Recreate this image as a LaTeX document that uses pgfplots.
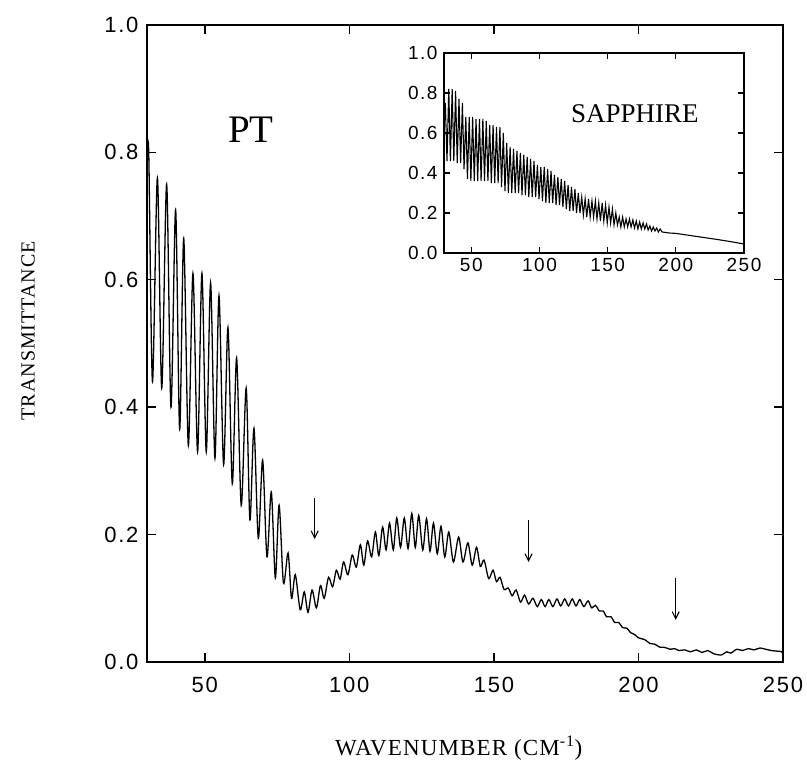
\documentclass[border=0pt]{standalone}
\usepackage{pgfplots}
\pgfplotsset{compat=1.18}
\usepackage{fontspec}
\setmainfont{Liberation Serif}
\newfontfamily\ticksans[LetterSpace=8]{Liberation Sans}
\newfontfamily\labserif[LetterSpace=5]{Liberation Serif}
\usetikzlibrary{arrows.meta}

\pgfplotstableread{
x y
30.0 0.78
30.6 0.80
31.9 0.44
33.6 0.76
35.1 0.43
36.8 0.75
38.3 0.40
39.9 0.71
41.3 0.365
42.7 0.665
44.3 0.34
45.9 0.61
47.5 0.33
49.0 0.61
50.5 0.33
52.0 0.595
53.5 0.32
54.9 0.575
56.5 0.31
58.0 0.525
59.5 0.28
61.0 0.477
62.6 0.246
64.3 0.43
65.6 0.223
67.0 0.367
68.5 0.194
70.0 0.317
71.5 0.165
73.0 0.267
74.4 0.132
75.7 0.246
77.2 0.124
78.8 0.171
80.0 0.10
81.3 0.137
83.0 0.082
84.4 0.11
85.7 0.078
87.1 0.113
88.6 0.085
90.0 0.12
91.3 0.10
92.8 0.133
94.2 0.118
95.5 0.144
96.8 0.13
98.0 0.157
99.5 0.137
101.0 0.168
102.4 0.149
103.8 0.184
105.0 0.152
106.3 0.19
107.7 0.165
109.0 0.204
110.2 0.167
111.5 0.212
112.7 0.176
113.9 0.218
115.2 0.176
116.4 0.226
117.7 0.18
119.0 0.226
120.3 0.178
121.6 0.233
122.8 0.18
124.0 0.23
125.4 0.176
126.7 0.225
127.9 0.174
129.1 0.218
130.4 0.17
131.7 0.213
133.0 0.165
134.4 0.204
136.0 0.157
137.8 0.196
139.3 0.157
141.0 0.187
142.5 0.152
144.0 0.18
145.3 0.15
146.6 0.16
148.2 0.131
149.7 0.144
150.9 0.126
152.1 0.133
153.5 0.114
155.0 0.116
156.3 0.104
157.7 0.113
159.2 0.094
160.6 0.105
162.0 0.091
163.5 0.100
165.0 0.087
166.4 0.098
167.7 0.087
169.0 0.098
170.4 0.087
171.8 0.099
173.1 0.088
174.5 0.099
175.8 0.088
177.1 0.099
178.4 0.088
179.7 0.098
181.1 0.087
182.6 0.096
183.8 0.085
185.1 0.089
186.5 0.080
187.8 0.080
189.0 0.071
190.5 0.071
191.8 0.062
193.2 0.062
194.5 0.054
196.0 0.053
197.3 0.046
198.7 0.043
200.0 0.038
202.2 0.035
204.0 0.029
205.6 0.028
207.5 0.023
209.0 0.023
211.0 0.020
212.5 0.021
214.0 0.018
216.0 0.019
218.0 0.016
220.0 0.019
222.0 0.015
224.0 0.018
226.0 0.013
228.7 0.011
230.5 0.016
232.0 0.014
234.0 0.020
236.0 0.018
238.0 0.021
240.0 0.019
242.0 0.022
244.0 0.020
246.0 0.018
248.0 0.017
249.6 0.016
250.0 0.010
}\pttable

\pgfplotstableread{
x y
30.0 0.62
31.0 0.75
32.2 0.46
33.5 0.82
34.7 0.46
36.0 0.82
37.2 0.46
38.5 0.81
39.7 0.45
41.0 0.77
42.2 0.45
43.5 0.75
44.7 0.42
46.0 0.68
47.2 0.37
48.5 0.68
49.7 0.36
51.0 0.68
52.2 0.36
53.5 0.67
54.7 0.36
56.0 0.67
57.2 0.36
58.5 0.67
59.7 0.36
61.0 0.66
62.2 0.36
63.5 0.64
64.7 0.35
66.0 0.64
67.2 0.35
68.5 0.63
69.7 0.35
71.0 0.63
72.2 0.33
73.5 0.60
74.7 0.31
76.0 0.55
77.2 0.30
78.5 0.53
79.7 0.30
81.0 0.52
82.2 0.30
83.5 0.51
84.7 0.30
86.0 0.50
87.2 0.29
88.5 0.49
89.7 0.29
91.0 0.48
92.2 0.28
93.5 0.47
94.7 0.28
96.0 0.46
97.2 0.28
98.5 0.44
99.7 0.27
101.0 0.43
102.2 0.26
103.5 0.43
104.7 0.25
106.0 0.42
107.2 0.25
108.5 0.41
109.7 0.25
111.0 0.39
112.2 0.24
113.5 0.38
114.7 0.24
116.0 0.37
117.2 0.23
118.5 0.36
119.7 0.22
121.0 0.34
122.2 0.21
123.5 0.33
124.7 0.21
126.0 0.32
127.2 0.20
128.5 0.30
129.7 0.20
131.0 0.28
132.2 0.19
133.5 0.27
134.7 0.18
136.0 0.27
137.2 0.18
138.5 0.26
139.7 0.18
141.0 0.26
142.2 0.17
143.5 0.25
144.7 0.16
146.0 0.25
147.2 0.16
148.5 0.24
149.7 0.15
151.0 0.23
152.2 0.15
153.5 0.22
154.7 0.14
156.0 0.20
157.2 0.14
158.5 0.18
159.7 0.13
161.0 0.18
162.2 0.13
163.5 0.17
164.7 0.13
166.0 0.17
167.2 0.13
168.5 0.165
169.7 0.125
171.0 0.16
172.2 0.12
173.5 0.155
174.7 0.12
176.0 0.15
177.2 0.12
178.5 0.145
179.7 0.115
181.0 0.135
182.2 0.11
183.5 0.13
184.7 0.11
186.0 0.125
187.2 0.105
188.5 0.12
190.0 0.105
195.0 0.10
200.0 0.098
210.0 0.088
220.0 0.078
230.0 0.068
240.0 0.057
250.0 0.045
}\saptable

\begin{document}
\begin{tikzpicture}
\useasboundingbox (-147pt,-103pt) rectangle (660pt,662pt);
\begin{axis}[
  name=main,
  scale only axis,
  width=636pt, height=637pt,
  xmin=30, xmax=250, ymin=0, ymax=1,
  xtick={50,100,150,200,250},
  ytick={0,0.2,0.4,0.6,0.8,1.0},
  tick align=inside,
  major tick length=9pt,
  major tick style={line width=1.4pt, black},
  /pgf/number format/assume math mode=true,
  tick label style={font=\fontsize{22}{26}\ticksans},
  yticklabel style={/pgf/number format/fixed, /pgf/number format/fixed zerofill, /pgf/number format/precision=1, xshift=-5pt},
  xticklabel style={yshift=-12pt},
  xlabel={\labserif WAVENUMBER (CM\textsuperscript{-1})},
  ylabel={\labserif TRANSMITTANCE},
  every axis x label/.style={at={(axis description cs:0.49,-0.135)}, anchor=center, font=\fontsize{23}{27}\selectfont},
  every axis y label/.style={at={(axis description cs:-0.187,0.52)}, anchor=center, rotate=90, font=\fontsize{20}{24}\selectfont},
]
\addplot[black, line width=1.3pt, smooth, tension=0.5] table[x=x,y=y] {\pttable};
\node[font=\fontsize{39}{44}\selectfont] at (axis cs:66,0.835) {PT};
\draw[line width=1.1pt, -{Straight Barb[length=7pt,width=7pt]}] (axis cs:88,0.257) -- (axis cs:88,0.193);
\draw[line width=1.1pt, -{Straight Barb[length=7pt,width=7pt]}] (axis cs:162,0.223) -- (axis cs:162,0.157);
\draw[line width=1.1pt, -{Straight Barb[length=7pt,width=7pt]}] (axis cs:212.9,0.132) -- (axis cs:212.9,0.066);
\end{axis}
\draw[line width=2.8pt] (main.south west) rectangle (main.north east);
\begin{axis}[
  name=inset,
  at={(297pt,409pt)}, anchor=south west,
  scale only axis,
  width=300pt, height=200pt,
  xmin=30, xmax=250, ymin=0, ymax=1,
  xtick={50,100,150,200,250},
  ytick={0,0.2,0.4,0.6,0.8,1.0},
  tick align=inside,
  major tick length=6pt,
  major tick style={line width=1.1pt, black},
  /pgf/number format/assume math mode=true,
  tick label style={font=\fontsize{19}{22}\ticksans},
  yticklabel style={/pgf/number format/fixed, /pgf/number format/fixed zerofill, /pgf/number format/precision=1, xshift=-3pt},
  xticklabel style={yshift=-2pt},
]
\addplot[black, line width=1.1pt] table[x=x,y=y] {\saptable};
\node[font=\fontsize{27}{32}\selectfont] at (axis cs:170,0.695) {SAPPHIRE};
\end{axis}
\draw[line width=2pt] (inset.south west) rectangle (inset.north east);
\end{tikzpicture}
\end{document}
